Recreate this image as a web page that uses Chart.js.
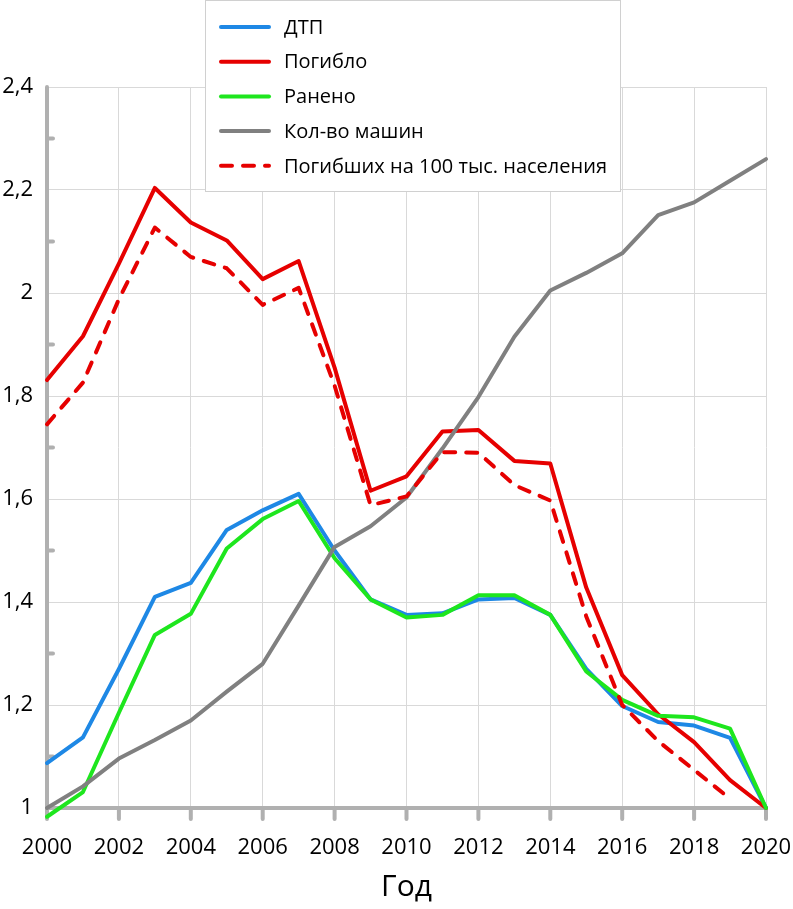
<!DOCTYPE html>
<html lang="ru">
<head>
<meta charset="UTF-8">
<title>ДТП 2000–2020</title>
<script src="https://cdn.jsdelivr.net/npm/chart.js"></script>
<style>
  body { margin: 0; background: #fff; }
  #wrap { width: 793px; height: 909px; position: relative; }
</style>
</head>
<body>
<div id="wrap"><canvas id="chart"></canvas></div>
<script>
  // годы по оси X
  const years = ['2000', '2001', '2002', '2003', '2004', '2005', '2006', '2007', '2008', '2009', '2010',
                 '2011', '2012', '2013', '2014', '2015', '2016', '2017', '2018', '2019', '2020'];

  // значения (отношение к 2020 году)
  const dtp      = [1.087, 1.137, 1.27, 1.41, 1.437, 1.54, 1.578, 1.61, 1.50, 1.405, 1.375,
                    1.378, 1.405, 1.408, 1.375, 1.27, 1.198, 1.167, 1.16, 1.136, 1.0];
  const pogiblo  = [1.831, 1.916, 2.057, 2.204, 2.137, 2.102, 2.027, 2.062, 1.855, 1.616, 1.644,
                    1.731, 1.734, 1.674, 1.669, 1.428, 1.258, 1.182, 1.128, 1.054, 1.0];
  const raneno   = [0.983, 1.031, 1.185, 1.336, 1.377, 1.504, 1.561, 1.596, 1.485, 1.405, 1.37,
                    1.375, 1.413, 1.413, 1.375, 1.265, 1.21, 1.179, 1.176, 1.154, 1.0];
  const mashiny  = [1.0, 1.042, 1.096, 1.132, 1.17, 1.226, 1.28, 1.393, 1.507, 1.547, 1.603,
                    1.698, 1.798, 1.915, 2.005, 2.039, 2.077, 2.151, 2.176, 2.218, 2.26];
  const pogibshih = [1.745, 1.826, 1.988, 2.127, 2.07, 2.048, 1.977, 2.01, 1.82, 1.588, 1.605,
                     1.691, 1.69, 1.627, 1.597, 1.372, 1.2, 1.13, 1.074, 1.018, null];

  const FONT = '"Open Sans", sans-serif';

  // оси: толстые серые линии и засечки
  const axesPlugin = {
    id: 'axesPlugin',
    beforeDatasetsDraw(chart) {
      const { ctx, chartArea: a, scales: { x, y } } = chart;
      ctx.save();
      ctx.strokeStyle = '#b0b0b0';
      ctx.lineWidth = 4;
      ctx.lineCap = 'round';
      ctx.beginPath();
      ctx.moveTo(a.left, a.top);
      ctx.lineTo(a.left, a.bottom);
      ctx.lineTo(a.right, a.bottom);
      years.forEach((yr, i) => {
        if (i % 2 === 0) {
          const px = x.getPixelForValue(i);
          ctx.moveTo(px, a.bottom);
          ctx.lineTo(px, a.bottom + 11);
        }
      });
      for (let v = 11; v < 24; v += 2) {
        const py = y.getPixelForValue(v / 10);
        ctx.moveTo(a.left, py);
        ctx.lineTo(a.left + 6, py);
      }
      ctx.stroke();
      ctx.restore();
    }
  };

  // легенда в рамке поверх графика
  const legendBox = {
    id: 'legendBox',
    afterDraw(chart) {
      const ctx = chart.ctx;
      ctx.save();
      ctx.fillStyle = '#fff';
      ctx.fillRect(205.5, 0.5, 415, 191);
      ctx.strokeStyle = '#d0d0d0';
      ctx.lineWidth = 1;
      ctx.strokeRect(205.5, 0.5, 415, 191);
      ctx.font = '20px ' + FONT;
      ctx.textBaseline = 'middle';
      chart.data.datasets.forEach((ds, i) => {
        const cy = 27 + i * 34.7;
        ctx.strokeStyle = ds.borderColor;
        ctx.lineWidth = 4;
        ctx.lineCap = 'round';
        ctx.setLineDash(ds.borderDash || []);
        ctx.beginPath();
        ctx.moveTo(221, cy);
        ctx.lineTo(269, cy);
        ctx.stroke();
        ctx.setLineDash([]);
        ctx.fillStyle = '#000';
        ctx.fillText(ds.label, 284, cy + 1);
      });
      ctx.restore();
    }
  };

  const common = { borderWidth: 4, pointRadius: 0, tension: 0, borderJoinStyle: 'round',
                   borderCapStyle: 'round', fill: false, clip: false };

  const ctx = document.getElementById('chart').getContext('2d');
  const chart = new Chart(ctx, {
    type: 'line',
    data: {
      labels: years,
      datasets: [
        { ...common, label: 'ДТП', data: dtp, borderColor: '#1e88e5', order: 4 },
        { ...common, label: 'Погибло', data: pogiblo, borderColor: '#e60000', order: 3 },
        { ...common, label: 'Ранено', data: raneno, borderColor: '#1ee61e', order: 2 },
        { ...common, label: 'Кол-во машин', data: mashiny, borderColor: '#808080', order: 1 },
        { ...common, label: 'Погибших на 100 тыс. населения', data: pogibshih, borderColor: '#e60000',
          borderDash: [11, 11], order: 0 }
      ]
    },
    options: {
      responsive: true,
      maintainAspectRatio: false,
      animation: false,
      layout: { padding: { top: 87, right: 27, left: 0, bottom: 0 } },
      plugins: { legend: { display: false }, tooltip: { enabled: false } },
      scales: {
        x: {
          offset: false,
          afterFit: s => { s.height = 101; s.paddingLeft = 0; s.paddingRight = 0; },
          grid: { color: c => (c.index % 2 === 0 ? '#d9d9d9' : 'transparent'), drawTicks: false },
          border: { display: false },
          ticks: {
            autoSkip: false, maxRotation: 0, padding: 27,
            color: '#000', font: { family: FONT, size: 22 },
            callback: (v, i) => (i % 2 === 0 ? years[i] : '')
          },
          title: { display: true, text: 'Год', color: '#000', font: { family: FONT, size: 30 }, padding: { top: 0, bottom: 4 } }
        },
        y: {
          min: 1, max: 2.4,
          afterFit: s => { s.width = 47; s.paddingTop = 0; s.paddingBottom = 0; },
          grid: { color: c => (Math.round(c.tick.value * 10) % 2 === 0 ? '#d9d9d9' : 'transparent'), drawTicks: false },
          border: { display: false },
          ticks: {
            stepSize: 0.1, padding: 14,
            color: '#000', font: { family: FONT, size: 22 },
            callback: v => {
              const r = Math.round(v * 10);
              if (r % 2 !== 0) return '';
              return (r % 10 === 0 ? String(r / 10) : (r / 10).toFixed(1).replace('.', ','));
            }
          }
        }
      }
    },
    plugins: [axesPlugin, legendBox]
  });
</script>
</body>
</html>
